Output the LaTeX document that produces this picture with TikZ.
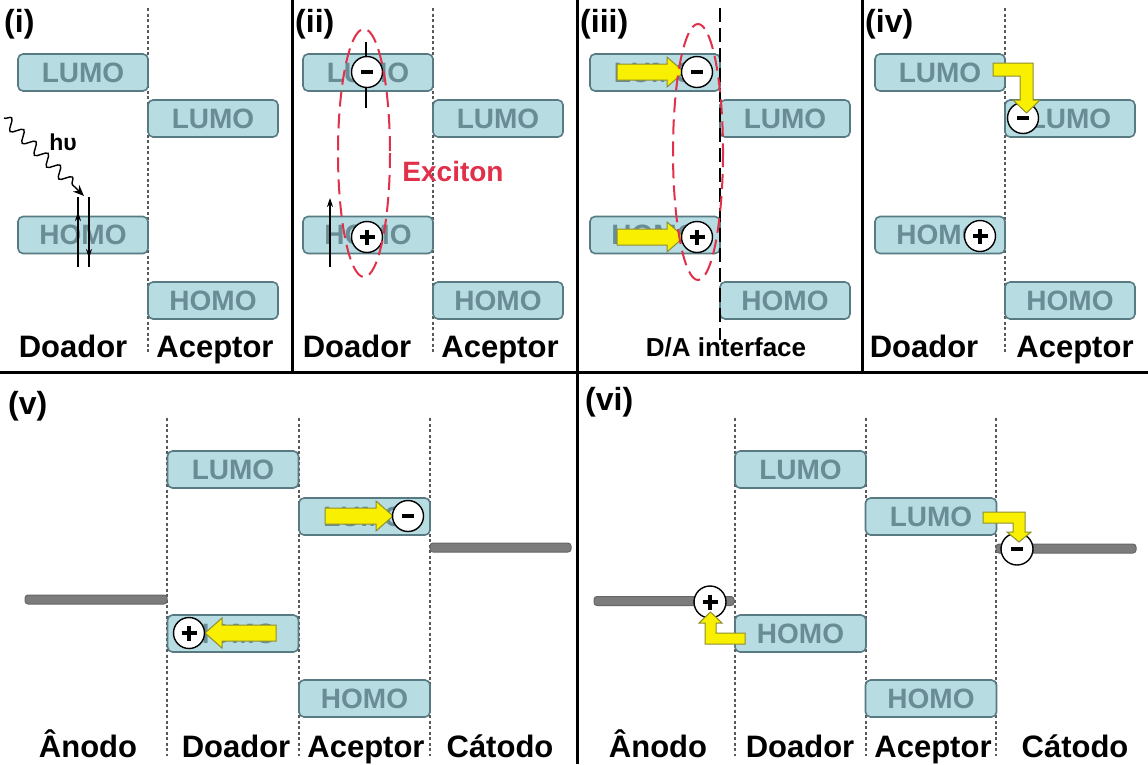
\documentclass[tikz,border=0pt]{standalone}
\usepackage{fontspec}
\setmainfont{Liberation Sans}
\usetikzlibrary{decorations.pathmorphing,arrows.meta}
\definecolor{boxfill}{HTML}{B7DCE2}
\definecolor{boxdraw}{HTML}{587A82}
\definecolor{boxtext}{HTML}{6A8C95}
\definecolor{ylw}{HTML}{F8F000}
\definecolor{ylwdraw}{HTML}{8E8E30}
\definecolor{exred}{HTML}{E0304A}
\definecolor{bargray}{HTML}{7C7C7C}
\newcommand{\yarH}[4]{% x-tail, x-tip, y, direction (+1 right, -1 left)
  \draw[yar] (#1,#3-8) -- ({#2-(#4)*17},#3-8) -- ({#2-(#4)*17},#3-15) -- (#2,#3)
    -- ({#2-(#4)*17},#3+15) -- ({#2-(#4)*17},#3+8) -- (#1,#3+8) -- cycle;}
\newcommand{\minussign}{\rule[-2.4pt]{12pt}{4.8pt}}
\newcommand{\plussign}{\makebox[0pt]{\rule[-2pt]{15pt}{4pt}}\makebox[0pt]{\rule[-7.5pt]{4pt}{15pt}}}
\begin{document}
\begin{tikzpicture}[x=1pt,y=-1pt,
  lvl/.style={draw=boxdraw, fill=boxfill, line width=1.6pt, rounded corners=5pt,
    minimum width=130pt, minimum height=37pt, inner sep=0pt, text=boxtext,
    font=\fontsize{28}{28}\selectfont\bfseries},
  lvlb/.style={lvl, minimum width=131pt},
  chg/.style={circle, draw=black, fill=white, line width=1.4pt, minimum size=31pt, inner sep=0pt},
  lab/.style={font=\fontsize{31}{31}\selectfont\bfseries, inner sep=0pt, anchor=base},
  ttl/.style={font=\fontsize{32}{32}\selectfont\bfseries, inner sep=0pt, anchor=west},
  sep/.style={draw=black!65, line width=1.3pt, dash pattern=on 3pt off 2.5pt},
  frame/.style={draw=black, line width=3pt},
  yar/.style={fill=ylw, draw=ylwdraw, line width=1pt, line join=miter},
  bar/.style={fill=bargray, draw=black!60, line width=1pt, rounded corners=3pt,
    minimum height=9pt, inner sep=0pt},
  exc/.style={draw=exred, line width=2pt, dash pattern=on 15pt off 7pt},
  spin/.style={draw=black, line width=1.2pt}]
\useasboundingbox (0,0) rectangle (1148,764);
\fill[white] (0,0) rectangle (1148,764);

% ---------- frames ----------
\draw[frame] (292,0) -- (292,372);
\draw[frame] (577,0) -- (577,372);
\draw[frame] (862,0) -- (862,372);
\draw[frame] (0,372) -- (1148,372);
\draw[frame] (577,372) -- (577,764);

% ---------- panel (i) ----------
\node[ttl] (ti) at (4,24) {(i)};
\draw[sep] (148,8) -- (148,354);
\node[lvl] (iDL) at (83,72.5) {LUMO};
\node[lvl] (iAL) at (213,118.5) {LUMO};
\node[lvl] (iDH) at (83,235) {HOMO};
\node[lvl] (iAH) at (213,300.5) {HOMO};
\coordinate (hvs) at (4,118);
\coordinate (hve) at (84,196);
\draw[decorate, decoration={snake, amplitude=5.5pt, segment length=17pt, post length=12pt},
  line width=1.4pt, -{Stealth[length=11pt,width=9pt]}] (hvs) -- (hve);
\node[font=\fontsize{23}{23}\selectfont\bfseries, inner sep=0pt] (hv) at (63,142) {hυ};
\coordinate (sp1a) at (78,267); \coordinate (sp1b) at (78,197);
\coordinate (sp2a) at (89,197); \coordinate (sp2b) at (89,267);
\draw[spin, -{Stealth[length=9pt,width=6pt]}] (sp1a) -- (78,212);
\draw[spin] (78,214) -- (sp1b);
\draw[spin, -{Stealth[length=9pt,width=6pt]}] (sp2a) -- (89,258);
\draw[spin] (89,256) -- (sp2b);
\node[lab] (iD) at (73,357) {Doador};
\node[lab] (iA) at (215,357) {Aceptor};

% ---------- panel (ii) ----------
\node[ttl] (tii) at (295,24) {(ii)};
\draw[sep] (433,8) -- (433,354);
\node[lvl] (iiDL) at (368,72.5) {LUMO};
\node[lvl] (iiAL) at (498,118.5) {LUMO};
\node[lvl] (iiDH) at (368,235) {HOMO};
\node[lvl] (iiAH) at (498,300.5) {HOMO};
\draw[spin] (366,42) -- (366,108);
\coordinate (sp3a) at (330,267); \coordinate (sp3b) at (330,198);
\draw[spin, -{Stealth[length=9pt,width=6pt]}] (sp3a) -- (sp3b);
\node[chg] (iiM) at (367,72) {\minussign};
\node[chg] (iiP) at (367,237) {\plussign};
\draw[exc] (364,153) ellipse [x radius=26, y radius=124];
\node[font=\fontsize{28}{28}\selectfont\bfseries, text=exred, inner sep=0pt] (exc) at (453,171) {Exciton};
\node[lab] (iiD) at (357,357) {Doador};
\node[lab] (iiA) at (500,357) {Aceptor};

% ---------- panel (iii) ----------
\node[ttl] (tiii) at (580,24) {(iii)};
\node[lvl] (iiiDL) at (655,72.5) {LUMO};
\node[lvl] (iiiAL) at (785,118.5) {LUMO};
\node[lvl] (iiiDH) at (655,235) {HOMO};
\node[lvl] (iiiAH) at (785,300.5) {HOMO};
\draw[draw=black, line width=2.4pt, dash pattern=on 14pt off 6pt] (720,8) -- (720,340);
\yarH{617}{684}{72}{1}
\yarH{617}{684}{237}{1}
\node[chg] (iiiM) at (697,72) {\minussign};
\node[chg] (iiiP) at (697,237) {\plussign};
\draw[exc] (698,152) ellipse [x radius=25, y radius=128];
\node[font=\fontsize{26}{26}\selectfont\bfseries, inner sep=0pt, anchor=base] (iiiI) at (726,356) {D/A interface};

% ---------- panel (iv) ----------
\node[ttl] (tiv) at (865,24) {(iv)};
\draw[sep] (1005,8) -- (1005,354);
\node[lvl] (ivDL) at (940,72.5) {LUMO};
\node[lvl] (ivAL) at (1070,118.5) {LUMO};
\node[lvl] (ivDH) at (940,235) {HOMO};
\node[lvl] (ivAH) at (1070,300.5) {HOMO};
\node[chg] (ivM) at (1023,118) {\minussign};
\node[chg] (ivP) at (980,236) {\plussign};
\draw[yar] (993,63) -- (1033,63) -- (1033,100) -- (1040,100) -- (1026.5,113) -- (1013,100)
  -- (1020,100) -- (1020,76) -- (993,76) -- cycle;
\node[lab] (ivD) at (924,357) {Doador};
\node[lab] (ivA) at (1075,357) {Aceptor};

% ---------- panel (v) ----------
\node[ttl] (tv) at (8,406) {(v)};
\draw[sep] (167,418) -- (167,756);
\draw[sep] (299,418) -- (299,756);
\draw[sep] (430,418) -- (430,756);
\node[lvlb] (vDL) at (233,469.5) {LUMO};
\node[lvlb] (vAL) at (364.5,516.5) {LUMO};
\node[lvlb] (vDH) at (233,633.5) {HOMO};
\node[lvlb] (vAH) at (364.5,698.5) {HOMO};
\node[bar, minimum width=141pt] (vCat) at (500.5,547.5) {};
\node[bar, minimum width=142pt] (vAn) at (96,599.5) {};
\yarH{325}{393}{516}{1}
\yarH{276}{205}{633}{-1}
\node[chg] (vM) at (408,516) {\minussign};
\node[chg] (vP) at (189,633) {\plussign};
\node[lab] (vAno) at (88,757) {Ânodo};
\node[lab] (vD) at (236,757) {Doador};
\node[lab] (vA) at (366,757) {Aceptor};
\node[lab] (vC) at (500,757) {Cátodo};

% ---------- panel (vi) ----------
\node[ttl] (tvi) at (585,402) {(vi)};
\draw[sep] (735,418) -- (735,756);
\draw[sep] (866,418) -- (866,756);
\draw[sep] (996,418) -- (996,756);
\node[lvlb] (viDL) at (800.5,469.5) {LUMO};
\node[lvlb] (viAL) at (931,516.5) {LUMO};
\node[lvlb] (viDH) at (800.5,633.5) {HOMO};
\node[lvlb] (viAH) at (931,698.5) {HOMO};
\node[bar, minimum width=140pt] (viCat) at (1066,548.5) {};
\node[bar, minimum width=140pt] (viAn) at (664,601) {};
\node[chg, minimum size=32pt] (viM) at (1017,549) {\minussign};
\node[chg, minimum size=32pt] (viP) at (710,602) {\plussign};
\draw[yar] (983,512) -- (1025,512) -- (1025,532) -- (1031,532) -- (1019,542) -- (1007,532)
  -- (1013,532) -- (1013,523) -- (983,523) -- cycle;
\draw[yar] (745,633) -- (745,644) -- (705,644) -- (705,623) -- (699,623) -- (710.5,612)
  -- (722,623) -- (716,623) -- (716,633) -- cycle;
\node[lab] (viAno) at (658,757) {Ânodo};
\node[lab] (viD) at (800,757) {Doador};
\node[lab] (viA) at (933,757) {Aceptor};
\node[lab] (viC) at (1075,757) {Cátodo};
\end{tikzpicture}
\end{document}
